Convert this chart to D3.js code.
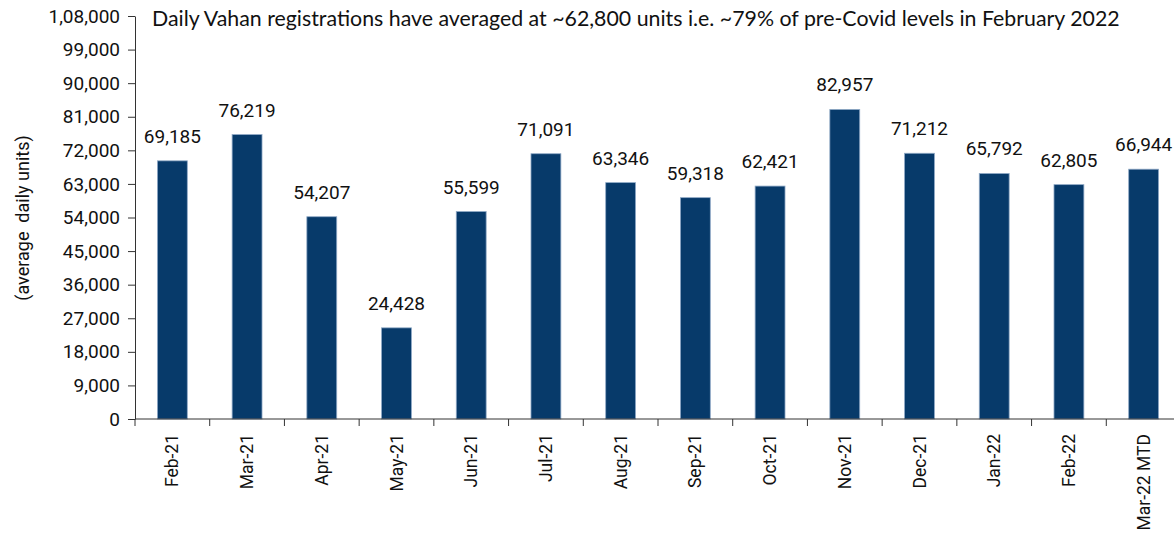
<!DOCTYPE html>
<html>
<head>
<meta charset="utf-8">
<script src="https://cdn.jsdelivr.net/npm/d3@7"></script>
<style>
  body { margin: 0; background: #fff; }
  text { font-family: Roboto, "Liberation Sans", sans-serif; fill: #111; }
</style>
</head>
<body>
<div id="chart"></div>
<script>
// Chart data
const months = ["Feb-21", "Mar-21", "Apr-21", "May-21", "Jun-21", "Jul-21", "Aug-21",
  "Sep-21", "Oct-21", "Nov-21", "Dec-21", "Jan-22", "Feb-22", "Mar-22 MTD"];
const dailyUnits = [69185, 76219, 54207, 24428, 55599, 71091, 63346,
  59318, 62421, 82957, 71212, 65792, 62805, 66944];
const yTicks = [0, 9000, 18000, 27000, 36000, 45000, 54000, 63000, 72000, 81000, 90000, 99000, 108000];
const title = "Daily Vahan registrations have averaged at ~62,800 units i.e. ~79% of pre-Covid levels in February 2022";
const yLabel = "(average  daily units)";

const width = 1174;
const height = 536;
const margin = { top: 16, left: 135, bottom: 117 };
const plotRight = 1181;

// Indian digit grouping: 1,08,000
function fmtIN(v) {
  const s = String(Math.round(v));
  if (s.length <= 3) return s;
  const last3 = s.slice(-3);
  const rest = s.slice(0, -3).replace(/\B(?=(\d{2})+(?!\d))/g, ",");
  return rest + "," + last3;
}

const svg = d3.select("#chart").append("svg")
  .attr("width", width)
  .attr("height", height);

const x = d3.scaleBand()
  .domain(months)
  .range([margin.left, plotRight])
  .paddingInner(0.6)
  .paddingOuter(0.3);

const y = d3.scaleLinear()
  .domain([0, 108000])
  .range([height - margin.bottom, margin.top]);

// Bars
svg.append("g")
  .selectAll("rect")
  .data(months)
  .join("rect")
  .attr("x", (d) => x(d))
  .attr("y", (d, i) => y(dailyUnits[i]))
  .attr("width", x.bandwidth())
  .attr("height", (d, i) => y(0) - y(dailyUnits[i]))
  .attr("fill", "#073a6a")
  .attr("stroke", "#8fa9c6")
  .attr("stroke-width", 0.8);

// Value labels
svg.append("g")
  .selectAll("text")
  .data(months)
  .join("text")
  .attr("x", (d) => x(d) + x.bandwidth() / 2)
  .attr("y", (d, i) => y(dailyUnits[i]) - 18)
  .attr("text-anchor", "middle")
  .attr("font-size", 19)
  .text((d, i) => fmtIN(dailyUnits[i]));

// Y axis
const yAxis = svg.append("g")
  .attr("transform", `translate(${margin.left},0)`)
  .call(d3.axisLeft(y).tickValues(yTicks).tickFormat(fmtIN).tickSize(7).tickPadding(8).tickSizeOuter(0));
yAxis.attr("font-family", null);
yAxis.selectAll("text").attr("font-size", 19).attr("fill", "#111");
yAxis.selectAll("path, line").attr("stroke", "#333");

// X axis line + boundary ticks
const xAxis = svg.append("g");
xAxis.append("line")
  .attr("x1", margin.left).attr("x2", width)
  .attr("y1", y(0)).attr("y2", y(0))
  .attr("stroke", "#333");
xAxis.selectAll("line.tick")
  .data(months)
  .join("line")
  .attr("class", "tick")
  .attr("x1", (d) => x(d) + x.bandwidth() / 2 - x.step() / 2)
  .attr("x2", (d) => x(d) + x.bandwidth() / 2 - x.step() / 2)
  .attr("y1", y(0)).attr("y2", y(0) + 7)
  .attr("stroke", "#333");

// X labels (rotated)
xAxis.selectAll("text")
  .data(months)
  .join("text")
  .attr("transform", (d) => `translate(${x(d) + x.bandwidth() / 2 + 6},${y(0) + 15}) rotate(-90)`)
  .attr("text-anchor", "end")
  .attr("font-size", 17.5)
  .text((d) => d);

// Y axis title
svg.append("text")
  .attr("transform", `translate(29,${(133 + 303) / 2}) rotate(-90)`)
  .attr("text-anchor", "middle")
  .attr("font-size", 18)
  .attr("xml:space", "preserve")
  .style("white-space", "pre")
  .text(yLabel);

// Chart title, sized to span the same width as the original
const titleText = svg.append("text")
  .attr("x", 152)
  .attr("y", 26)
  .attr("font-size", 17)
  .style("font-family", "Lato, 'Open Sans', sans-serif")
  .attr("fill", "#262626")
  .text(title);
const tw = titleText.node().getComputedTextLength();
titleText.attr("font-size", 17 * 968 / tw);
</script>
</body>
</html>
